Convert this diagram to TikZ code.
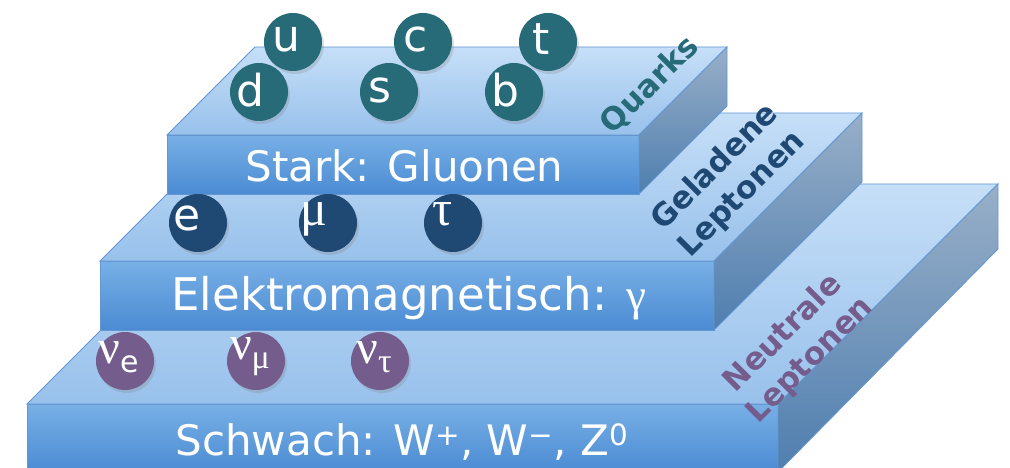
\documentclass[tikz,border=0pt]{standalone}
\usepackage{fontspec}
\setmainfont{DejaVu Sans}
\newfontfamily\gk{Liberation Serif}
\usetikzlibrary{shadows}

\definecolor{quarkcol}{HTML}{276B78}
\definecolor{leptcol}{HTML}{1F4872}
\definecolor{nucol}{HTML}{745C8C}
\definecolor{edgecol}{HTML}{6496D2}
\definecolor{fronttop}{HTML}{78B0E6}
\definecolor{frontbot}{HTML}{4B8BD3}
\definecolor{topback}{HTML}{C6DFF8}
\definecolor{topfront}{HTML}{98C1EB}
\definecolor{sidetop}{HTML}{98AFC8}
\definecolor{sidebot}{HTML}{4F7EAF}

\begin{document}
\begin{tikzpicture}[x=1pt,y=-1pt]
% Styles
\tikzset{
    frontface/.style={draw=edgecol, line width=0.8pt, top color=fronttop, bottom color=frontbot},
    topface/.style={draw=edgecol, line width=0.8pt, top color=topback, bottom color=topfront},
    sideface/.style={draw=edgecol, line width=0.8pt, top color=sidetop, bottom color=sidebot},
    slabtext/.style={anchor=base west, text=white, font=\fontsize{42}{50}\selectfont},
    particle/.style={circle, minimum size=58pt, inner sep=0pt,
        drop shadow={shadow xshift=2pt, shadow yshift=-3pt, opacity=0.25}},
    ptext/.style={text=white, font=\fontsize{44}{50}\selectfont},
    gtext/.style={text=white, font=\fontsize{50}{50}\selectfont\gk},
    quark/.style={particle, fill=quarkcol},
    lepton/.style={particle, fill=leptcol},
    neutrino/.style={particle, fill=nucol},
    grouptext/.style={rotate=45, align=center, font=\bfseries\fontsize{31}{38}\selectfont}
}
\useasboundingbox (0,0) rectangle (1010,468);
% Schwach slab
\draw[frontface] (27,404) rectangle (778,472);
\draw[topface] (27,404) -- (778,404) -- (998,184) -- (247,184) -- cycle;
\draw[sideface] (778,404) -- (998,184) -- (998,249) -- (778,472) -- cycle;
% Elektromagnetisch slab
\draw[frontface] (100,261) rectangle (714,330);
\draw[topface] (100,261) -- (714,261) -- (862,113) -- (248,113) -- cycle;
\draw[sideface] (714,261) -- (862,113) -- (862,182) -- (714,330) -- cycle;
% Stark slab
\draw[frontface] (167,135) rectangle (639,194);
\draw[topface] (167,135) -- (639,135) -- (727,47) -- (255,47) -- cycle;
\draw[sideface] (639,135) -- (727,47) -- (727,106) -- (639,194) -- cycle;
% Slab labels
\node[slabtext] (stark) at (242,182) {Stark: Gluonen};
\node[slabtext, font=\fontsize{45}{50}\selectfont] (em) at (168,310) {Elektromagnetisch: {\gk γ}};
\node[slabtext] (weak) at (172,455) {Schwach: W\textsuperscript{+}, W\textsuperscript{−}, Z\textsuperscript{0}};
% Neutrinos
\node[neutrino, label={[gtext, xshift=-6pt, yshift=4pt]center:{\fontsize{48}{50}\selectfont ν\raisebox{-9pt}{\fontsize{30}{30}\selectfont\rmfamily e}}}] (nue) at (125,361) {};
\node[neutrino, label={[gtext, xshift=-6pt, yshift=4pt]center:{\fontsize{48}{50}\selectfont ν\raisebox{-9pt}{\fontsize{34}{34}\selectfont μ}}}] (numu) at (256,361) {};
\node[neutrino, label={[gtext, xshift=-6pt, yshift=4pt]center:{\fontsize{48}{50}\selectfont ν\raisebox{-9pt}{\fontsize{34}{34}\selectfont τ}}}] (nutau) at (380,361) {};
% Charged leptons
\node[lepton, label={[ptext, xshift=-11pt, yshift=5pt]center:e}] (e) at (198,223) {};
\node[lepton, label={[gtext, xshift=-14pt, yshift=4pt]center:μ}] (mu) at (328,223) {};
\node[lepton, label={[gtext, xshift=-10pt, yshift=9pt]center:τ}] (tau) at (453,223) {};
% Quarks
\node[quark, label={[ptext, xshift=-7pt, yshift=3pt]center:u}] (u) at (293,42) {};
\node[quark, label={[ptext, xshift=-9pt, yshift=2pt]center:d}] (d) at (259,92) {};
\node[quark, label={[ptext, xshift=-7pt, yshift=3pt]center:c}] (c) at (423,42) {};
\node[quark, label={[ptext, xshift=-9pt, yshift=2pt]center:s}] (s) at (389,92) {};
\node[quark, label={[ptext, xshift=-7pt, yshift=3pt]center:t}] (t) at (548,42) {};
\node[quark, label={[ptext, xshift=-9pt, yshift=2pt]center:b}] (b) at (514,92) {};
% Group labels
\node[grouptext, text=quarkcol] (quarks) at (650,85) {Quarks};
\node[grouptext, text=leptcol] (charged) at (729,181) {Geladene\\Leptonen};
\node[grouptext, text=nucol] (neutral) at (797,347) {Neutrale\\Leptonen};
\end{tikzpicture}
\end{document}
